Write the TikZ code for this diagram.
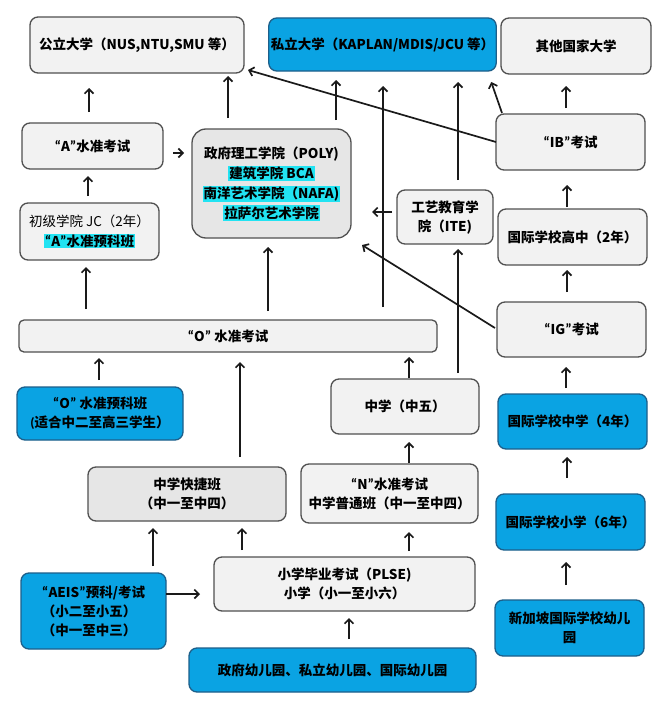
\documentclass[tikz,border=0pt]{standalone}
\usepackage{fontspec}
\setmainfont{Noto Sans CJK SC}
\newfontfamily\latreg{Carlito}
\usetikzlibrary{arrows.meta}
\definecolor{boxgray}{HTML}{F2F2F2}
\definecolor{boxgraydk}{HTML}{E6E6E6}
\definecolor{edgegray}{HTML}{505050}
\definecolor{bluefill}{HTML}{0AA3E3}
\definecolor{blueedge}{HTML}{1D5F8A}
\definecolor{hlcol}{HTML}{22E3F2}
\definecolor{arrcol}{HTML}{1A1A1A}
\newcommand\hlbox[1]{{\setlength\fboxsep{1pt}\colorbox{hlcol}{#1}}}
\newcommand\qt[1]{{\latreg\fontsize{15}{17}\selectfont “}#1{\latreg\fontsize{15}{17}\selectfont ”}}
\tikzset{
  box/.style={draw=edgegray, fill=boxgray, line width=1.3pt, rounded corners=8pt,
    inner sep=2pt, outer sep=0pt, align=center, font=\fontsize{13.5}{19}\selectfont\bfseries},
  bluebox/.style={box, draw=blueedge, fill=bluefill},
  arr/.style={-{Straight Barb[length=4.5pt,width=9pt]}, line width=1.7pt, draw=arrcol},
}
\begin{document}
\begin{tikzpicture}[x=1pt,y=-1pt]
\useasboundingbox[fill=white] (0,0) rectangle (671,701);
% top row
\node[box, minimum width=214pt, minimum height=56pt] (pub) at (137,45) {公立大学（NUS,NTU,SMU 等）};
\node[bluebox, minimum width=219pt, minimum height=53pt] (priv) at (382.5,44.5) {私立大学（KAPLAN/MDIS/JCU 等）};
\node[box, minimum width=150pt, minimum height=56pt] (other) at (576,46) {其他国家大学};
% second tier
\node[box, minimum width=141pt, minimum height=46pt] (aexam) at (92.5,146) {\qt{A}水准考试};
\node[box, fill=boxgraydk, rounded corners=14pt, minimum width=159pt, minimum height=109pt, font=\fontsize{13.5}{20}\selectfont\bfseries] (poly) at (271.5,183.5)
  {政府理工学院（POLY)\\\hlbox{建筑学院 BCA}\\\hlbox{南洋艺术学院（NAFA)}\\\hlbox{拉萨尔艺术学院}};
\node[box, minimum width=139pt, minimum height=57pt, font=\fontsize{13.5}{20}\selectfont] (jc) at (89.5,231.5)
  {初级学院 JC（2年）\\\hlbox{\bfseries \qt{A}水准预科班}};
\node[box, minimum width=96pt, minimum height=54pt] (ite) at (445,217) {工艺教育学\\院（ITE)};
\node[box, minimum width=149pt, minimum height=56pt] (ib) at (570.5,142) {\qt{IB}考试};
\node[box, minimum width=149pt, minimum height=56pt] (ihs) at (572.5,237) {国际学校高中（2年）};
% O level row
\node[box, rounded corners=5pt, minimum width=418pt, minimum height=32pt] (oexam) at (228,336) {\qt{O} 水准考试};
\node[bluebox, minimum width=166pt, minimum height=53pt] (oprep) at (100,413.5) {\qt{O} 水准预科班\\{\latreg (}适合中二至高三学生）};
\node[box, minimum width=148pt, minimum height=55pt] (sec5) at (405,406.5) {中学（中五）};
\node[box, minimum width=149pt, minimum height=55pt] (ig) at (571.5,329.5) {\qt{IG}考试};
\node[bluebox, minimum width=149pt, minimum height=55pt] (ims) at (572.5,421.5) {国际学校中学（4年）};
% secondary
\node[box, fill=boxgraydk, minimum width=198pt, minimum height=54pt] (express) at (187,494) {中学快捷班\\（中一至中四）};
\node[box, minimum width=177pt, minimum height=59pt] (nexam) at (389.5,493.5) {\qt{N}水准考试\\中学普通班（中一至中四）};
\node[bluebox, minimum width=149pt, minimum height=56pt] (ips) at (570.5,522) {国际学校小学（6年）};
% primary
\node[bluebox, minimum width=145pt, minimum height=76pt, align=left] (aeis) at (93.5,611) {\qt{AEIS}预科/考试\\（小二至小五）\\（中一至中三）};
\node[box, minimum width=261pt, minimum height=54pt] (plse) at (344.5,584) {小学毕业考试（PLSE)\\小学（小一至小六）};
\node[bluebox, minimum width=287pt, minimum height=44pt] (kg) at (332.5,670) {政府幼儿园、私立幼儿园、国际幼儿园};
\node[bluebox, minimum width=149pt, minimum height=56pt] (ikg) at (569.5,628) {新加坡国际学校幼儿\\园};
% vertical arrows
\draw[arr, shorten <=9pt, shorten >=7pt] ([xshift=16.5pt]kg.north) -- ([xshift=4.5pt]plse.south);
\draw[arr, shorten <=6pt, shorten >=9pt] ([xshift=64.5pt]plse.north) -- ([xshift=19.5pt]nexam.south);
\draw[arr, shorten <=1pt, shorten >=8pt] ([xshift=19.5pt]nexam.north) -- ([xshift=4pt]sec5.south);
\draw[arr, shorten <=1pt, shorten >=5pt] ([xshift=4pt]sec5.north) -- ([xshift=181pt]oexam.south);
\draw[arr, shorten <=6pt, shorten >=5pt] ([xshift=53pt]sec5.north) -- ([xshift=13pt]ite.south);
\draw[arr, shorten <=10pt, shorten >=11pt] ([xshift=13pt]ite.north) -- ([xshift=75.5pt]priv.south);
\draw[arr, shorten <=13pt, shorten >=15pt] ([xshift=155pt]oexam.north) -- ([xshift=0.5pt]priv.south);
\draw[arr, shorten <=9pt, shorten >=9pt] ([xshift=64.5pt]poly.north) -- ([xshift=-46.5pt]priv.south);
\draw[arr, shorten <=11pt, shorten >=3pt] ([xshift=-43.5pt]poly.north) -- ([xshift=91pt]pub.south);
\draw[arr, shorten <=11pt, shorten >=15pt] ([xshift=-3.5pt]aexam.north) -- ([xshift=-48pt]pub.south);
\draw[arr, shorten <=7pt, shorten >=7pt] ([xshift=-1.5pt]jc.north) -- ([xshift=-4.5pt]aexam.south);
\draw[arr, shorten <=11pt, shorten >=7pt] ([xshift=-142pt]oexam.north) -- ([xshift=-3.5pt]jc.south);
\draw[arr, shorten <=9pt, shorten >=9pt] ([xshift=40pt]oexam.north) -- ([xshift=-3.5pt]poly.south);
\draw[arr, shorten <=7pt, shorten >=6pt] ([xshift=-1pt]oprep.north) -- ([xshift=-129pt]oexam.south);
\draw[arr, shorten <=10pt, shorten >=10pt] ([xshift=53pt]express.north) -- ([xshift=12pt]oexam.south);
\draw[arr, shorten <=7pt, shorten >=7pt] ([xshift=59.5pt]aeis.north) -- ([xshift=-34pt]express.south);
\draw[arr, shorten <=7pt, shorten >=7pt] ([xshift=-102.5pt]plse.north) -- ([xshift=55pt]express.south);
\draw[arr, shorten <=15pt, shorten >=12pt] ([xshift=-3.5pt]ikg.north) -- ([xshift=-4.5pt]ips.south);
\draw[arr, shorten <=16pt, shorten >=8pt] ([xshift=-3.5pt]ips.north) -- ([xshift=-5.5pt]ims.south);
\draw[arr, shorten <=6pt, shorten >=10pt] ([xshift=-6.5pt]ims.north) -- ([xshift=-5.5pt]ig.south);
\draw[arr, shorten <=10pt, shorten >=5pt] ([xshift=-4.5pt]ig.north) -- ([xshift=-5.5pt]ihs.south);
\draw[arr, shorten <=2pt, shorten >=15pt] ([xshift=-5.5pt]ihs.north) -- ([xshift=-3.5pt]ib.south);
\draw[arr, shorten <=6pt, shorten >=12pt] ([xshift=-4.5pt]ib.north) -- ([xshift=-10pt]other.south);
% horizontal arrows
\draw[arr, shorten <=10pt, shorten >=8pt] ([yshift=-7pt]aexam.east) -- ([yshift=30.5pt]poly.west);
\draw[arr, shorten <=5pt, shorten >=21pt] ([yshift=5pt]ite.west) -- ([yshift=-28.5pt]poly.east);
\draw[arr, shorten >=14pt] ([yshift=17pt]aeis.east) -- ([yshift=-10pt]plse.west);
% diagonal arrows
\draw[arr] (ib.west) -- ([xshift=4pt,yshift=3pt]pub.south east);
\draw[arr] ([xshift=6pt,yshift=1pt]ib.north west) -- ([xshift=-5pt,yshift=-11pt]priv.south east);
\draw[arr] ([xshift=-2pt,yshift=1.5pt]ig.west) -- ([xshift=11pt,yshift=-7pt]poly.south east);
\end{tikzpicture}
\end{document}
